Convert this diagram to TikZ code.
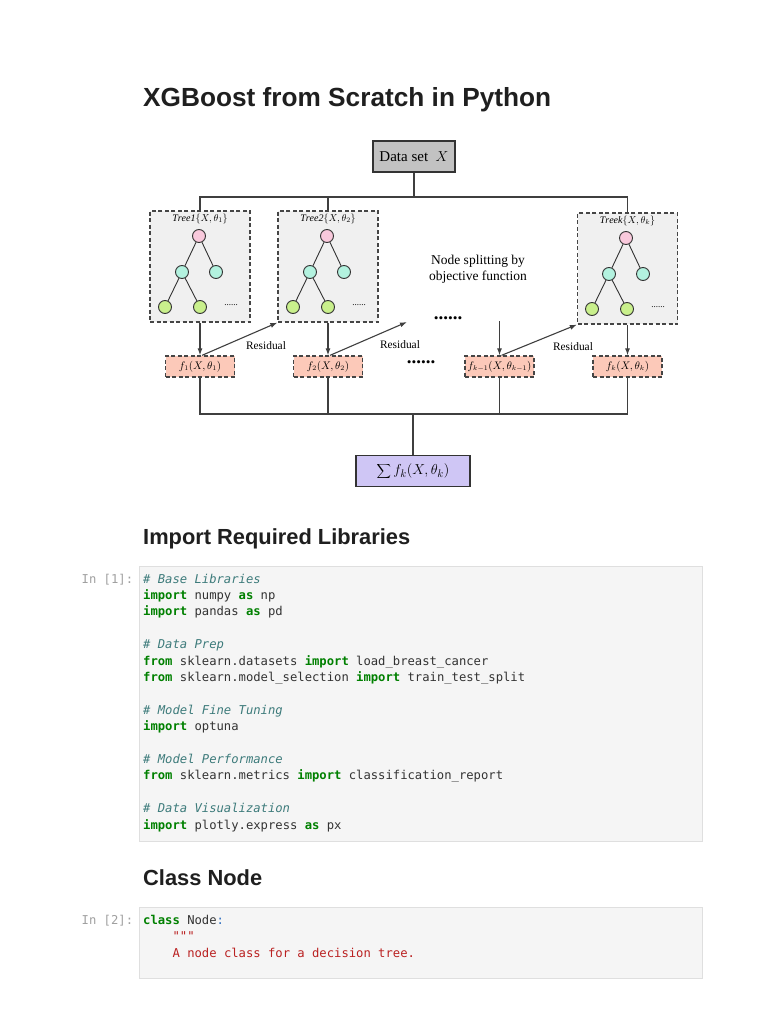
\documentclass[tikz,border=0pt]{standalone}
\usepackage{fontspec}
\usepackage{graphicx}
\setmainfont{Liberation Serif}
\newfontfamily\headfont{Liberation Sans}
\newfontfamily\codefont{DejaVu Sans Mono}
\usetikzlibrary{arrows.meta}
\definecolor{linegray}{HTML}{3F3F3F}
\definecolor{dashgray}{HTML}{454545}
\definecolor{boxgray}{HTML}{F0F0F0}
\definecolor{dsfill}{HTML}{C2C2C2}
\definecolor{salmon}{HTML}{FCC9B9}
\definecolor{lavender}{HTML}{CFC6F5}
\definecolor{pinkc}{HTML}{F9C9DC}
\definecolor{cyanc}{HTML}{B3F2DF}
\definecolor{greenc}{HTML}{C9F08C}
\definecolor{nodeborder}{HTML}{333333}
\definecolor{headc}{HTML}{1F1F1F}
\definecolor{codetext}{HTML}{333333}
\definecolor{kwgreen}{HTML}{008000}
\definecolor{cmteal}{HTML}{3D7B7B}
\definecolor{promptgray}{HTML}{A0A0A0}
\definecolor{cellfill}{HTML}{F5F5F5}
\definecolor{cellborder}{HTML}{DFDFDF}
\definecolor{strred}{HTML}{BA2121}
\definecolor{colonblue}{HTML}{3070C0}
\newcommand\codekw[1]{{\bfseries\color{kwgreen}#1}}
\newcommand\codecm[1]{{\itshape\color{cmteal}#1}}
\tikzset{
  dtree/.pic={
    \node[tnode, fill=pinkc] (-r) at (0,0) {};
    \node[tnode, fill=cyanc] (-a) at (-17,36) {};
    \node[tnode, fill=cyanc] (-b) at (17,36) {};
    \node[tnode, fill=greenc] (-c) at (-34,71) {};
    \node[tnode, fill=greenc] (-d) at (1,71) {};
    \node[font=\fontsize{9}{10}\selectfont, inner sep=0] (-e) at (32,69) {......};
    \draw[treeedge] (-r) -- (-a);
    \draw[treeedge] (-r) -- (-b);
    \draw[treeedge] (-a) -- (-c);
    \draw[treeedge] (-a) -- (-d);
  }
}
\begin{document}
\begin{tikzpicture}[x=1pt,y=-1pt,
  conn/.style={draw=linegray, line width=1.1pt},
  arr/.style={conn, -{Latex[length=7pt,width=5pt]}},
  treeedge/.style={draw=nodeborder, line width=0.9pt},
  tnode/.style={circle, draw=nodeborder, line width=0.9pt, minimum size=13pt, inner sep=0},
  treebox/.style={draw=dashgray, dash pattern=on 4pt off 2.5pt, line width=1.3pt, fill=boxgray, minimum width=100pt, minimum height=111pt, inner sep=0},
  fbox/.style={draw=dashgray, dash pattern=on 4pt off 2.5pt, line width=1.3pt, fill=salmon, minimum width=69pt, minimum height=21pt, inner sep=0, font=\fontsize{10.5}{12}\selectfont},
  plain/.style={inner sep=0},
  heading/.style={anchor=base west, inner sep=0, text=headc},
  codetxt/.style={anchor=base west, inner sep=0, font=\codefont\fontsize{12.2}{14}\selectfont, text=codetext},
  prompt/.style={anchor=base west, inner sep=0, font=\codefont\fontsize{12.2}{14}\selectfont, text=promptgray},
  cell/.style={draw=cellborder, fill=cellfill, line width=1pt, anchor=north west, minimum width=562.5pt, inner sep=0}
]
\fill[white] (0,0) rectangle (768,1024);
\useasboundingbox (0,0) rectangle (768,1024);

% ---------- title ----------
\node[heading] (title) at (143,107) {\resizebox{408pt}{!}{\headfont\bfseries XGBoost from Scratch in Python}};

% ---------- diagram ----------
\node[draw=nodeborder, line width=1.1pt, fill=dsfill, minimum width=82pt, minimum height=31pt, inner sep=0, font=\fontsize{15}{17}\selectfont] (ds) at (414,156.5) {Data set~~$X$};

\node[treebox] (t1box) at (200,266.5) {};
\node[treebox] (t2box) at (328,266.5) {};
\node[treebox] (tkbox) at (627.5,268.5) {};

\node[plain, font=\fontsize{10}{11}\selectfont] (t1lab) at (200,219) {$\mathit{Tree1}\{X,\theta_1\}$};
\node[plain, font=\fontsize{10}{11}\selectfont] (t2lab) at (328,219) {$\mathit{Tree2}\{X,\theta_2\}$};
\node[plain, font=\fontsize{10}{11}\selectfont] (tklab) at (627.5,221) {$\mathit{Treek}\{X,\theta_k\}$};

\pic (t1) at (199,236) {dtree};
\pic (t2) at (327,236) {dtree};
\pic (tk) at (626,238) {dtree};

\node[plain, align=center, font=\fontsize{13.5}{16}\selectfont] (split) at (478,269) {Node splitting by\\objective function};

\node[fbox] (f1) at (200,366.5) {$f_1(X,\theta_1)$};
\node[fbox] (f2) at (328,366.5) {$f_2(X,\theta_2)$};
\node[fbox] (fk1) at (499.5,366.5) {$f_{k-1}(X,\theta_{k-1})$};
\node[fbox] (fk) at (627.5,366.5) {$f_k(X,\theta_k)$};

\node[draw=nodeborder, line width=1.1pt, fill=lavender, minimum width=114pt, minimum height=31pt, inner sep=0, font=\fontsize{15}{17}\selectfont] (sum) at (413,471) {$\displaystyle\sum f_k(X,\theta_k)$};

\node[plain, font=\fontsize{19}{19}\selectfont\bfseries] (dots1) at (448,318) {......};
\node[plain, font=\fontsize{19}{19}\selectfont\bfseries] (dots2) at (421,362) {......};

\node[plain, font=\fontsize{11.4}{13}\selectfont] (res1) at (266,346) {Residual};
\node[plain, font=\fontsize{11.4}{13}\selectfont] (res2) at (400,345) {Residual};
\node[plain, font=\fontsize{11.4}{13}\selectfont] (res3) at (573,347) {Residual};

% top connectors
\coordinate (jt) at (414,197);
\draw[conn] (ds.south) -- (jt);
\draw[conn] (t1box.north) |- (jt) -| (tkbox.north);
\draw[conn] (t2box.north) -- (t2box.north |- jt);

% arrows
\coordinate (r2end) at (407,322);
\coordinate (kstart) at (499.5,321);
\draw[arr] (t1box.south) -- (f1.north);
\draw[arr] ([xshift=2pt]f1.north) -- (t2box.south west);
\draw[arr] (t2box.south) -- (f2.north);
\draw[arr] ([xshift=2pt]f2.north) -- (r2end);
\draw[arr] (kstart) -- (fk1.north);
\draw[arr] ([xshift=2pt]fk1.north) -- (tkbox.south west);
\draw[arr] (tkbox.south) -- (fk.north);

% bottom connectors
\coordinate (jb) at (413,414);
\draw[conn] (f1.south) -- (f1.south |- jb) -- (fk.south |- jb) -- (fk.south);
\draw[conn] (f2.south) -- (f2.south |- jb);
\draw[conn] (fk1.south) -- (fk1.south |- jb);
\draw[conn] (jb) -- (sum.north);

% ---------- section 1 ----------
\node[heading] (h2) at (143,544) {\resizebox{267pt}{!}{\headfont\bfseries Import Required Libraries}};

\node[cell, minimum height=274.5pt] (cell1) at (139,566) {};
\node[prompt] (p1) at (81.5,583) {In [1]:};
\node[codetxt] (c1a) at (143,583.0) {\codecm{\# Base Libraries}};
\node[codetxt] (c1b) at (143,599.4) {\codekw{import} numpy \codekw{as} np};
\node[codetxt] (c1c) at (143,615.8) {\codekw{import} pandas \codekw{as} pd};
\node[codetxt] (c1d) at (143,648.6) {\codecm{\# Data Prep}};
\node[codetxt] (c1e) at (143,665.0) {\codekw{from} sklearn.datasets \codekw{import} load\_breast\_cancer};
\node[codetxt] (c1f) at (143,681.4) {\codekw{from} sklearn.model\_selection \codekw{import} train\_test\_split};
\node[codetxt] (c1g) at (143,714.2) {\codecm{\# Model Fine Tuning}};
\node[codetxt] (c1h) at (143,730.6) {\codekw{import} optuna};
\node[codetxt] (c1i) at (143,763.4) {\codecm{\# Model Performance}};
\node[codetxt] (c1j) at (143,779.8) {\codekw{from} sklearn.metrics \codekw{import} classification\_report};
\node[codetxt] (c1k) at (143,812.6) {\codecm{\# Data Visualization}};
\node[codetxt] (c1l) at (143,829.0) {\codekw{import} plotly.express \codekw{as} px};

% ---------- section 2 ----------
\node[heading] (h3) at (143,885) {\resizebox{119pt}{!}{\headfont\bfseries Class Node}};

\node[cell, minimum height=71pt] (cell2) at (139,907) {};
\node[prompt] (p2) at (81.5,924.2) {In [2]:};
\node[codetxt] (c2a) at (143,924.2) {\codekw{class} Node{\color{colonblue}:}};
\node[codetxt, text=strred] (c2b) at (172.4,940.6) {"""};
\node[codetxt, text=strred] (c2c) at (172.4,957.0) {A node class for a decision tree.};
\end{tikzpicture}
\end{document}
